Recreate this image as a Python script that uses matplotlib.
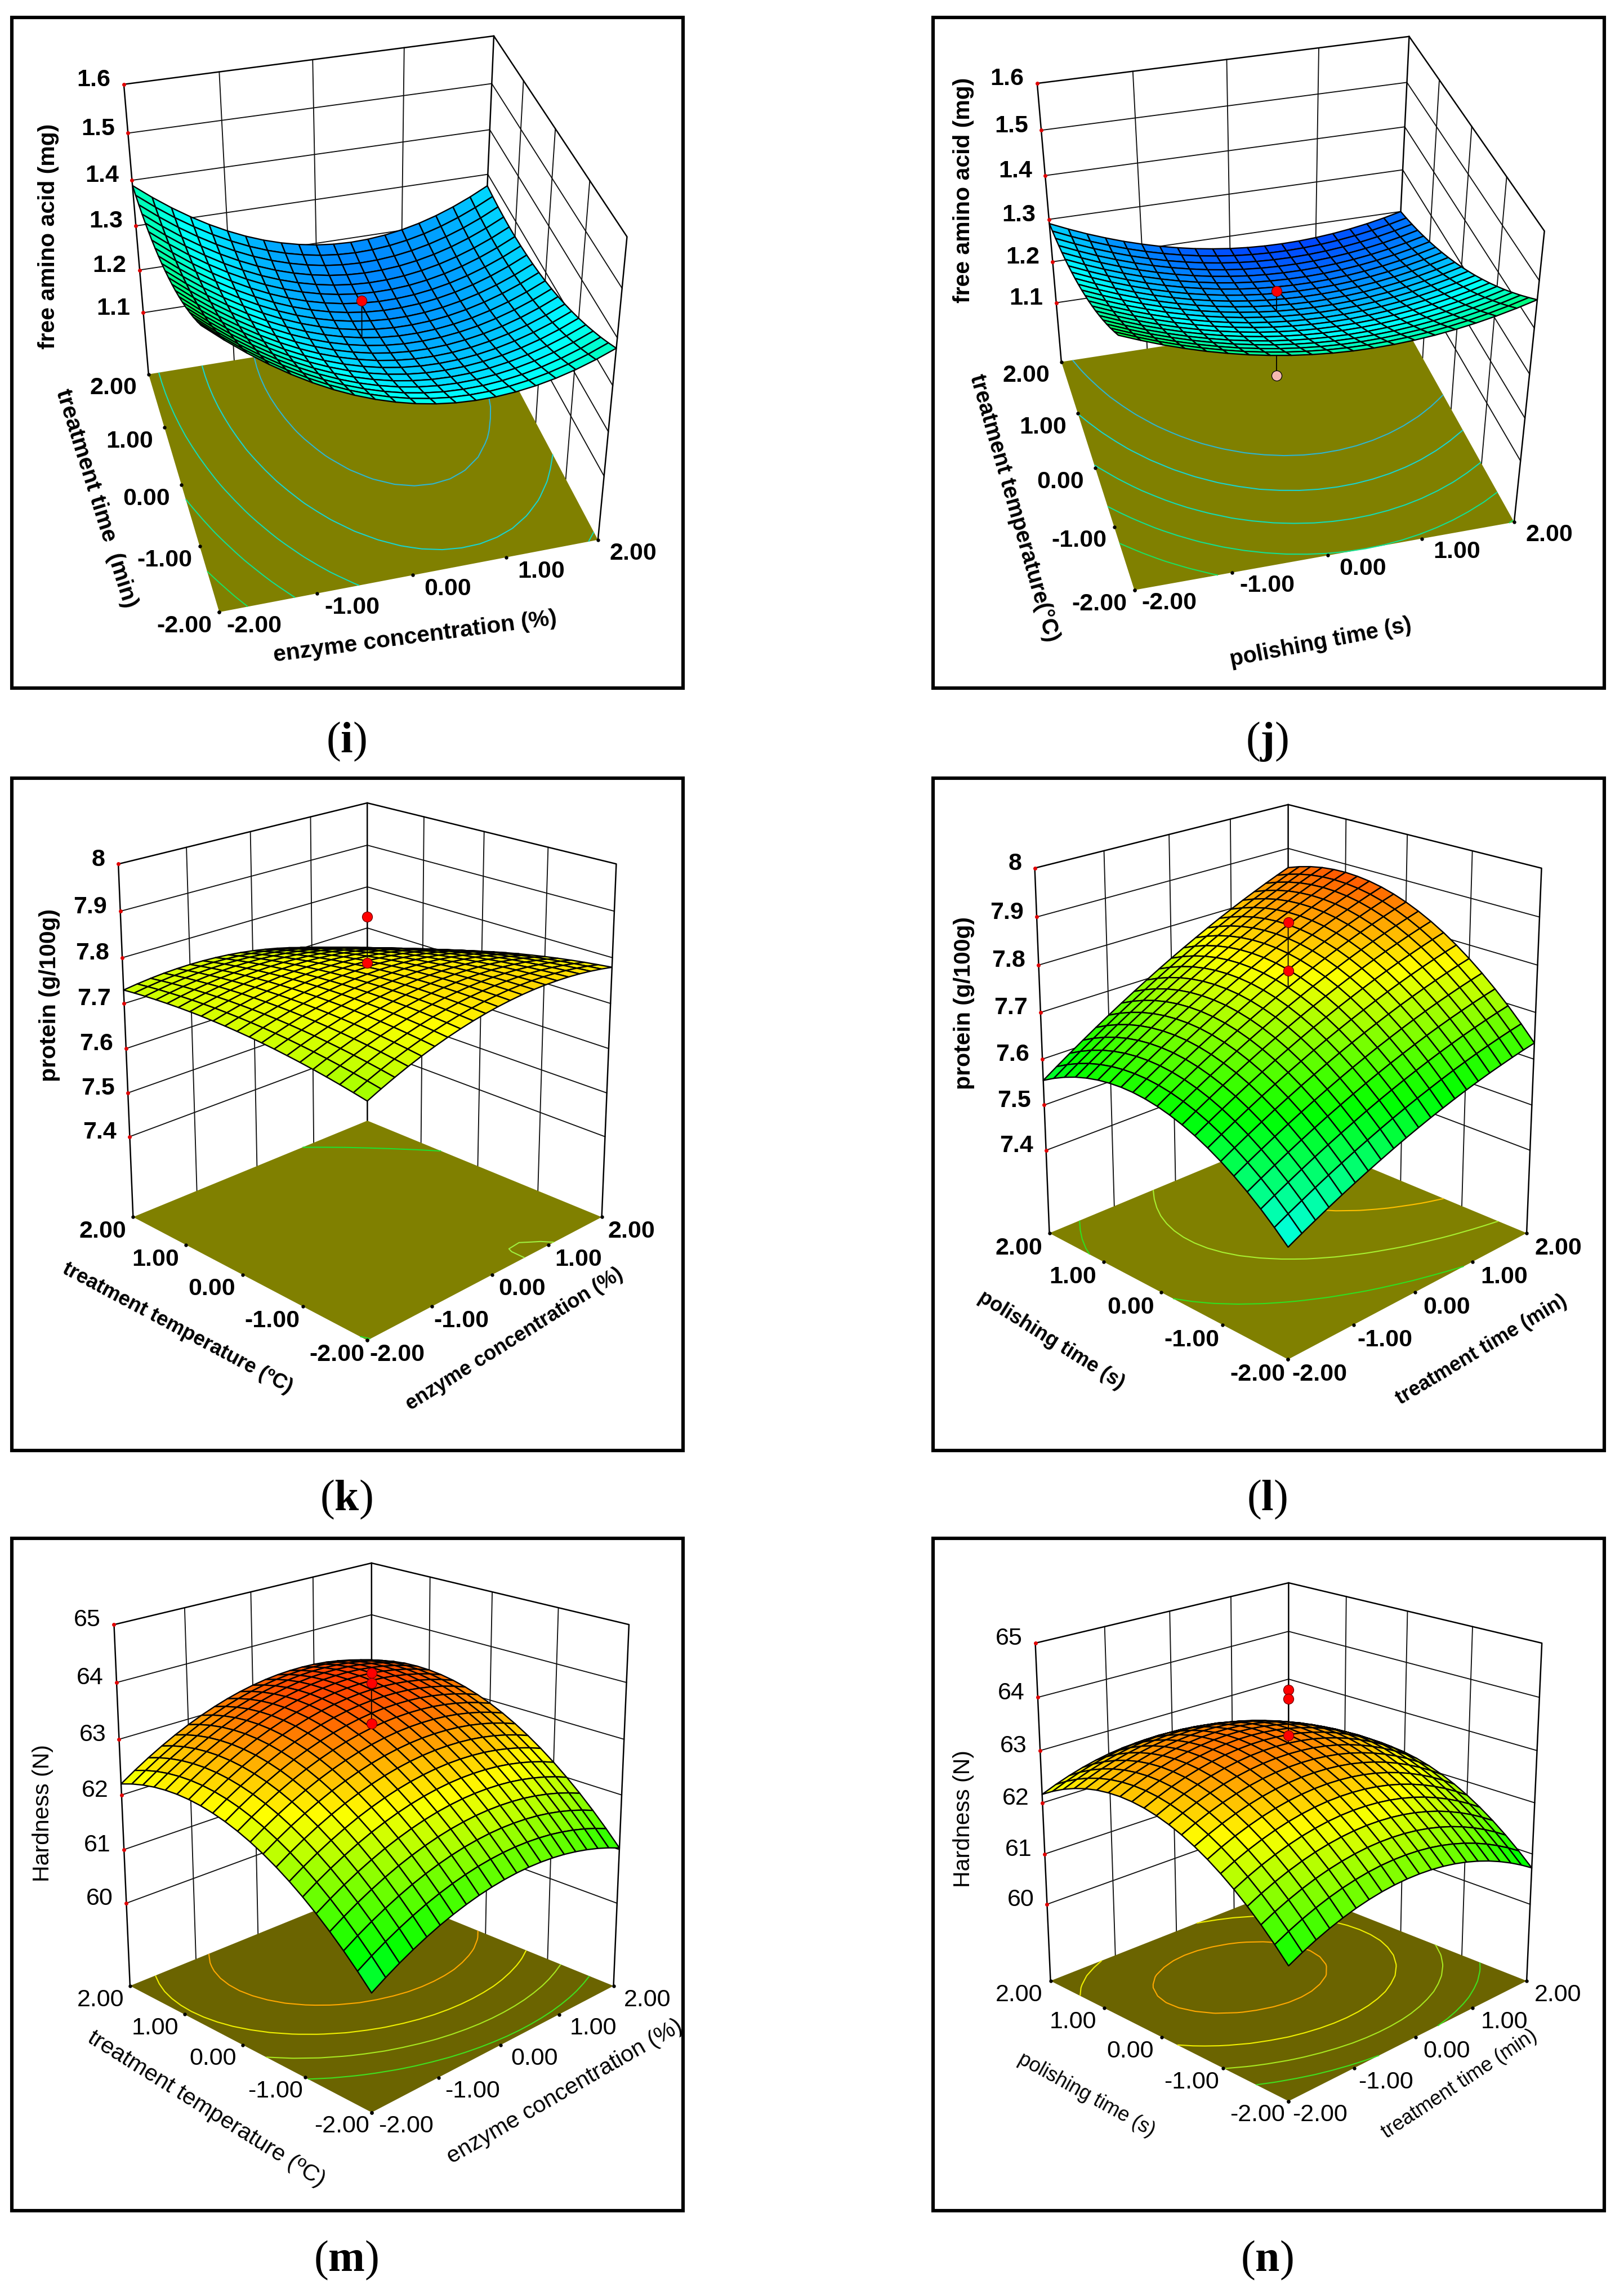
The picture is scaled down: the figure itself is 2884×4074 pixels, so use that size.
'''
Response surface panels (i)-(n): free amino acid, protein and hardness.
Each surface is built from two profiles read off the picture (one along each
factor, 21 nodes) plus a single twist value for the corners.
'''
import numpy as np
import matplotlib
matplotlib.use('Agg')
import matplotlib.pyplot as plt
from matplotlib.colors import LinearSegmentedColormap, Normalize

plt.rcParams['font.family'] = ['Liberation Sans', 'DejaVu Sans']
plt.rcParams['mathtext.fontset'] = 'custom'
plt.rcParams['mathtext.rm'] = 'Liberation Serif'
plt.rcParams['mathtext.bf'] = 'Liberation Serif:bold'

# --------------------------------------------------------- #
# Data
factor_nodes = [-2.0, -1.8, -1.6, -1.4, -1.2, -1.0, -0.8, -0.6, -0.4, -0.2, 0.0,
                0.2, 0.4, 0.6, 0.8, 1.0, 1.2, 1.4, 1.6, 1.8, 2.0]
factor_ticks = [-2, -1, 0, 1, 2]

along_x_i = [1.4288, 1.3958, 1.3654, 1.3379, 1.3129, 1.2907, 1.2711, 1.2543, 1.2402, 1.2288, 1.2200,
             1.2140, 1.2106, 1.2101, 1.2121, 1.2169, 1.2243, 1.2345, 1.2474, 1.2630, 1.2812]
along_y_i = [.1138, .0984, .0838, .0703, .0575, .0457, .0347, .0247, .0156, .0074, 0,
             -.0064, -.0120, -.0165, -.0203, -.0231, -.0251, -.0261, -.0262, -.0254, -.0238]
along_x_j = [1.3700, 1.3521, 1.3355, 1.3206, 1.3070, 1.2951, 1.2845, 1.2756, 1.2680, 1.2621, 1.2575,
             1.2545, 1.2530, 1.2530, 1.2545, 1.2575, 1.2620, 1.2680, 1.2755, 1.2845, 1.2950]
along_y_j = [.1575, .1387, .1204, .1030, .0861, .0701, .0546, .0400, .0259, .0127, 0,
             -.0119, -.0231, -.0336, -.0434, -.0525, -.0609, -.0686, -.0756, -.0819, -.0875]
along_x_k = [7.7364, 7.7450, 7.7527, 7.7595, 7.7653, 7.7701, 7.7740, 7.7769, 7.7789, 7.7799, 7.7800,
             7.7791, 7.7773, 7.7745, 7.7708, 7.7661, 7.7605, 7.7539, 7.7463, 7.7378, 7.7284]
along_y_k = [.0072, .0084, .0092, .0096, .0095, .0090, .0080, .0067, .0049, .0027, 0,
             -.0031, -.0067, -.0105, -.0150, -.0198, -.0251, -.0308, -.0368, -.0434, -.0504]
along_x_l = [7.6048, 7.6218, 7.6382, 7.6543, 7.6699, 7.6849, 7.6995, 7.7135, 7.7272, 7.7404, 7.7530,
             7.7652, 7.7768, 7.7881, 7.7989, 7.8091, 7.8189, 7.8281, 7.8370, 7.8454, 7.8532]
along_y_l = [-.1918, -.1629, -.1361, -.1116, -.0892, -.0689, -.0508, -.0348, -.0211, -.0095, 0,
             .0073, .0125, .0154, .0162, .0149, .0114, .0058, -.0021, -.0121, -.0242]
along_x_m = [62.200, 62.357, 62.501, 62.632, 62.751, 62.858, 62.951, 63.032, 63.101, 63.157, 63.200,
             63.231, 63.249, 63.254, 63.247, 63.228, 63.195, 63.150, 63.093, 63.023, 62.940]
along_y_m = [-1.830, -1.568, -1.324, -1.097, -.888, -.696, -.522, -.365, -.226, -.104, 0,
             .087, .156, .208, .242, .259, .258, .240, .204, .151, .080]
along_x_n = [62.604, 62.724, 62.829, 62.919, 62.995, 63.056, 63.102, 63.134, 63.151, 63.153, 63.140,
             63.113, 63.071, 63.014, 62.942, 62.856, 62.755, 62.639, 62.509, 62.364, 62.204]
along_y_n = [-1.598, -1.341, -1.106, -.892, -.700, -.529, -.380, -.253, -.147, -.063, 0,
             .041, .060, .058, .034, -.011, -.078, -.167, -.277, -.409, -.562]

twist_i, twist_j, twist_k, twist_l, twist_m, twist_n = .0041, -.0019, -.0109, .0067, .02, -.03

z_ticks_i = [1.1, 1.2, 1.3, 1.4, 1.5, 1.6]
z_ticks_k = [7.4, 7.5, 7.6, 7.7, 7.8, 7.9, 8.0]
z_ticks_m = [60, 61, 62, 63, 64, 65]
z_labels_i = ['1.1', '1.2', '1.3', '1.4', '1.5', '1.6']
z_labels_k = ['7.4', '7.5', '7.6', '7.7', '7.8', '7.9', '8']
z_labels_m = ['60', '61', '62', '63', '64', '65']

levels_i = [1.238, 1.30, 1.37, 1.44, 1.51]
levels_j = [1.278, 1.322, 1.367, 1.412, 1.457]
levels_k = [7.703, 7.7945]
levels_l = [7.598, 7.70, 7.80]
levels_m = [61.5, 62.0, 62.5, 63.0]
levels_n = [61.5, 62.0, 62.5, 63.0]

points_i = [1.302]
points_j = [1.304]
below_j = [1.105]
points_k = [7.888, 7.789]
points_l = [7.889, 7.788]
points_m = [64.17, 63.99, 63.28]
points_n = [64.14, 63.97, 63.29]

# --------------------------------------------------------- #
# Layout: corners are in a 1560x1560 grid laid over each 1210 px crop
CROP = 1210
GRID = 1560.0
W, H = 2884, 4074
BLUE_GREEN = ['#2fb6d0', '#19d4cf', '#14dcb4', '#14e090', '#1ee060']
PANEL_SETUP = [
    dict(tag='i', crop=(10, 20), frame=(21, 31, 1213, 1222), label=(615, 1317),
         A=(490, 1375), B=(1355, 1212), C=(327, 832), D=(1090, 705),
         Ct=(270, 167), Dt=(1118, 58), Bt=(1423, 515), zf=.95, zt=1.6,
         ax=along_x_i, ay=along_y_i, tw=twist_i, zt_v=z_ticks_i, zt_l=z_labels_i,
         levels=levels_i, lc=BLUE_GREEN, pts=points_i, below=[], vr=(1.05, 2.07),
         off_x=(80, 32), off_y=(-80, 32), weight='bold', floor='#808000', lab_fs=29.5,
         xl=('enzyme concentration (%)', 938, 1432, 7.5), yl=('treatment time  (min)', 208, 1115, -72.5),
         zl=('free amino acid (mg)', 98, 515)),
    dict(tag='j', crop=(1650, 20), frame=(1657, 31, 2849, 1222), label=(2250, 1317),
         A=(470, 1325), B=(1340, 1170), C=(303, 803), D=(1068, 684),
         Ct=(247, 165), Dt=(1100, 58), Bt=(1408, 503), zf=.95, zt=1.6,
         ax=along_x_j, ay=along_y_j, tw=twist_j, zt_v=z_ticks_i, zt_l=z_labels_i,
         levels=levels_j, lc=BLUE_GREEN, pts=points_j, below=below_j, vr=(1.10, 2.02),
         off_x=(80, 30), off_y=(-80, 32), weight='bold', floor='#808000', lab_fs=28.5,
         xl=('polishing time (s)', 897, 1445, 11), yl=('treatment temperature(\u00b0C)', 195, 1137, -74),
         zl=('free amino acid (mg)', 78, 410)),
    dict(tag='k', crop=(10, 1370), frame=(21, 1382, 1213, 2576), label=(615, 2663),
         A=(828, 1303), B=(1365, 1020), C=(292, 1020), D=(828, 800),
         Ct=(258, 212), Dt=(828, 72), Bt=(1398, 212), zf=7.212, zt=8.0,
         ax=along_x_k, ay=along_y_k, tw=twist_k, zt_v=z_ticks_k, zt_l=z_labels_k,
         levels=levels_k, lc=['#20e030', '#a0f040'], pts=points_k, below=[], vr=(7.26, 7.94),
         off_x=(68, 33), off_y=(-70, 33), weight='bold', floor='#808000', lab_fs=26,
         xl=('enzyme concentration (%)', 1165, 1300, 32), yl=('treatment temperature (\u00baC)', 393, 1275, -28),
         zl=('protein (g/100g)', 100, 512)),
    dict(tag='l', crop=(1650, 1370), frame=(1657, 1382, 2849, 2576), label=(2250, 2663),
         A=(822, 1348), B=(1368, 1055), C=(275, 1055), D=(822, 832),
         Ct=(242, 222), Dt=(822, 75), Bt=(1402, 222), zf=7.213, zt=8.0,
         ax=along_x_l, ay=along_y_l, tw=twist_l, zt_v=z_ticks_k, zt_l=z_labels_k,
         levels=levels_l, lc=['#30e020', '#a8f030', '#ffc000'], pts=points_l, below=[], vr=(7.26, 7.94),
         off_x=(72, 35), off_y=(-70, 35), weight='bold', floor='#808000', lab_fs=26,
         xl=('treatment time (min)', 1265, 1325, 31), yl=('polishing time (s)', 280, 1303, -32),
         zl=('protein (g/100g)', 80, 530)),
    dict(tag='m', crop=(10, 2720), frame=(21, 2732, 1213, 3926), label=(615, 4014),
         A=(838, 1330), B=(1392, 1040), C=(285, 1040), D=(838, 815),
         Ct=(248, 213), Dt=(838, 72), Bt=(1427, 213), zf=58.42, zt=65.0,
         ax=along_x_m, ay=along_y_m, tw=twist_m, zt_v=z_ticks_m, zt_l=z_labels_m,
         levels=levels_m, lc=['#40e020', '#a8e820', '#f0f000', '#ffa800'], pts=points_m, below=[], vr=(57.9, 63.9),
         off_x=(78, 32), off_y=(-68, 32), weight='normal', floor='#6b6400', lab_fs=29.5,
         xl=('enzyme concentration (%)', 1280, 1282, 30), yl=('treatment temperature (\u00baC)', 460, 1322, -32),
         zl=('Hardness (N)', 85, 645)),
    dict(tag='n', crop=(1650, 2720), frame=(1657, 2732, 2849, 3926), label=(2250, 4014),
         A=(823, 1303), B=(1368, 1030), C=(278, 1030), D=(823, 812),
         Ct=(243, 255), Dt=(823, 118), Bt=(1403, 255), zf=58.44, zt=65.0,
         ax=along_x_n, ay=along_y_n, tw=twist_n, zt_v=z_ticks_m, zt_l=z_labels_m,
         levels=levels_n, lc=['#40e020', '#a8e820', '#f0f000', '#ffa800'], pts=points_n, below=[], vr=(57.9, 63.9),
         off_x=(72, 32), off_y=(-72, 32), weight='normal', floor='#6b6400', lab_fs=26,
         xl=('treatment time (min)', 1215, 1265, 33.5), yl=('polishing time (s)', 360, 1290, -29),
         zl=('Hardness (N)', 78, 657)),
]

surface_cmap = LinearSegmentedColormap.from_list('rsm', ['#0000ff', '#00ffff', '#00ff00', '#ffff00', '#ff0000'])


def camera_matrix(p):
    '''Projective camera fitted to the seven box corners of a panel.'''
    world = [(-2, -2, p['zf']), (2, -2, p['zf']), (-2, 2, p['zf']), (2, 2, p['zf']),
             (-2, 2, p['zt']), (2, 2, p['zt']), (2, -2, p['zt'])]
    image = [p['A'], p['B'], p['C'], p['D'], p['Ct'], p['Dt'], p['Bt']]
    scale = 1 / (p['zt'] - p['zf'])
    T = np.array([[.5, 0, 0, 0], [0, .5, 0, 0], [0, 0, scale, -p['zf'] * scale], [0, 0, 0, 1]])
    rows = []
    for w, (u, v) in zip(world, image):
        X = T @ np.array([*w, 1.0])
        u, v = u / 1000, v / 1000
        rows.append([*X, 0, 0, 0, 0, *(-u * X)])
        rows.append([0, 0, 0, 0, *X, *(-v * X)])
    cam = np.linalg.svd(np.array(rows))[2][-1].reshape(3, 4)
    cam = cam @ T
    centre = cam @ np.array([0, 0, .5 * (p['zf'] + p['zt']), 1.0])
    cam = cam / centre[2]
    cam[:2] *= 1000
    return cam


def to_grid(cam, x, y, z):
    u, v, w = cam @ np.array([x, y, z, 1.0])
    return u / w, v / w


def draw_panel(fig, p):
    cx, cy = p['crop']
    ax = fig.add_axes([cx / W, 1 - (cy + CROP) / H, CROP / W, CROP / H], projection='3d', computed_zorder=False)
    ax.set_axis_off()
    ax.patch.set_visible(False)

    # mplot3d works in -1..1 view coordinates, so the camera is rescaled to them
    cam = camera_matrix(p)
    half = GRID / 2
    M = np.vstack([(cam[0] - half * cam[2]) / half, (cam[1] - half * cam[2]) / half,
                   [0, 0, 0, -1.0], cam[2]])
    ax.get_proj = lambda: M

    xs = np.array(factor_nodes)
    X, Y = np.meshgrid(xs, xs, indexing='ij')
    Z = np.add.outer(np.array(p['ax']), np.array(p['ay'])) + p['tw'] * X * Y
    centre_z = p['ax'][10] + p['ay'][10]
    zf, zt = p['zf'], p['zt']

    # back walls
    wall = dict(color='#101010', lw=1.35, zorder=1)
    edge = dict(color='#000000', lw=1.8, zorder=1)
    for t in factor_ticks[1:-1]:
        ax.plot([t, t], [2, 2], [zf, zt], **wall)
        ax.plot([2, 2], [t, t], [zf, zt], **wall)
    for z in p['zt_v'][:-1]:
        ax.plot([-2, 2, 2], [2, 2, -2], [z, z, z], **wall)
    ax.plot([-2, -2, 2, 2, 2], [2, 2, 2, -2, -2], [zf, zt, zt, zt, zf], **edge)
    ax.plot([2, 2], [2, 2], [zf, zt], **edge)

    # floor with contours and tick dots
    floor_x, floor_y = np.meshgrid([-2, 2], [-2, 2])
    floor = ax.plot_surface(floor_x, floor_y, np.full((2, 2), zf), color=p['floor'], shade=False, linewidth=0)
    floor.set_zorder(2)
    cset = ax.contour(X, Y, Z, levels=p['levels'], colors=p['lc'], linewidths=1.5, zdir='z', offset=zf)
    cset.set_zorder(3)
    for t in factor_ticks:
        ax.plot([t], [-2], [zf], 'o', color='k', ms=3.6, zorder=3)
        ax.plot([-2], [t], [zf], 'o', color='k', ms=3.6, zorder=3)

    # points under the surface
    for z in p['below']:
        ax.plot([0, 0], [0, 0], [z, centre_z], color='k', lw=1.3, zorder=4)
        ax.plot([0], [0], [z], 'o', mfc='#f6b8b0', mec='k', mew=.9, ms=13, zorder=4)

    # surface
    norm = Normalize(*p['vr'])
    cells = .25 * (Z[:-1, :-1] + Z[1:, :-1] + Z[:-1, 1:] + Z[1:, 1:])
    surf = ax.plot_surface(X, Y, Z, facecolors=surface_cmap(norm(cells)), rstride=1, cstride=1, shade=False)
    surf.set_edgecolor('#000000')
    surf.set_linewidth(1.7)
    surf.set_zorder(5)

    # points over the surface
    if p['pts']:
        ax.plot([0, 0], [0, 0], [max(p['pts']), centre_z], color='k', lw=1.3, zorder=6)
        for z in p['pts']:
            ax.plot([0], [0], [z], 'o', mfc='#ff0000', mec='#700000', mew=.9, ms=13, zorder=7)
    for z in p['zt_v']:
        ax.plot([-2], [2], [z], 'o', color='#e00000', ms=4, zorder=6)

    # text, placed from the projected ticks
    def label(u, v, s, **kw):
        ax.text2D(u / GRID, 1 - v / GRID, s, transform=ax.transAxes, color='k', zorder=9,
                  fontweight=p['weight'], **kw)

    for t in factor_ticks:
        u, v = to_grid(cam, t, -2, zf)
        label(u + p['off_x'][0], v + p['off_x'][1], '%.2f' % t, ha='center', va='center', fontsize=31)
        u, v = to_grid(cam, -2, t, zf)
        label(u + p['off_y'][0], v + p['off_y'][1], '%.2f' % t, ha='center', va='center', fontsize=31)
    for z, s in zip(p['zt_v'], p['zt_l']):
        u, v = to_grid(cam, -2, 2, z)
        label(u - 30, v - 10, s, ha='right', va='center', fontsize=31)
    for s, u, v, rot in [p['xl'], p['yl']]:
        label(u, v, s, ha='center', va='center', rotation=rot, rotation_mode='anchor', fontsize=p['lab_fs'])
    s, u, v = p['zl']
    label(u, v, s, ha='center', va='center', rotation=90, rotation_mode='anchor', fontsize=29.5)

    ax.viewLim.intervalx = (-1, 1)
    ax.viewLim.intervaly = (1, -1)

    # frame and caption
    x0, y0, x1, y1 = p['frame']
    fig.add_artist(plt.Rectangle((x0 / W, 1 - y1 / H), (x1 - x0) / W, (y1 - y0) / H, fill=False,
                                 ec='k', lw=4.4, transform=fig.transFigure))
    fig.text(p['label'][0] / W, 1 - p['label'][1] / H, '($\\mathbf{%s}$)' % p['tag'], ha='center', va='center',
             fontsize=56, family='Liberation Serif', color='k')


fig = plt.figure(figsize=(W / 100, H / 100), dpi=100, facecolor='white')
for panel in PANEL_SETUP:
    draw_panel(fig, panel)
fig.savefig('out.png', dpi=100)
